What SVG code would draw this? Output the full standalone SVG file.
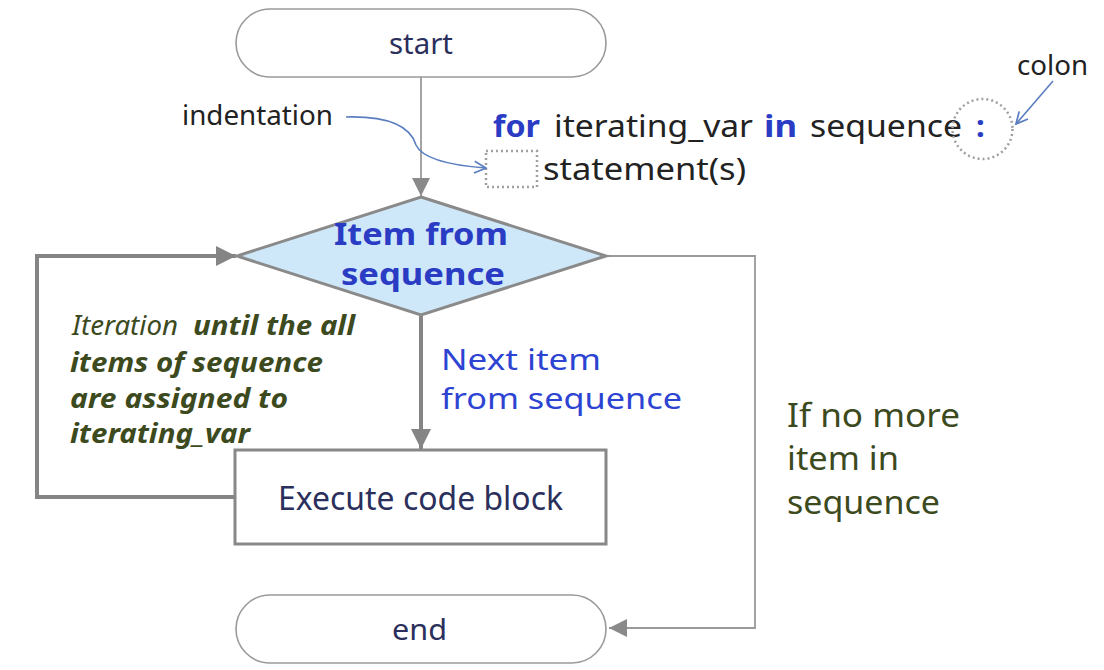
<svg xmlns="http://www.w3.org/2000/svg" width="1104" height="670" viewBox="0 0 1104 670">
<defs>
<style>
text{font-family:"Noto Sans","Open Sans","DejaVu Sans",sans-serif}
.term{fill:#fff;stroke:#9a9a9a;stroke-width:1.6}
.proc{fill:#fff;stroke:#888;stroke-width:3}
.dec{fill:#cfe8f9;stroke:#8a8a8a;stroke-width:3}
.thick{fill:none;stroke:#858585;stroke-width:4}
.thin{fill:none;stroke:#9a9a9a;stroke-width:1.8}
.note{fill:none;stroke:#5b7fc0;stroke-width:1.6}
.dot{fill:none;stroke:#a0a0a0;stroke-width:2.5;stroke-dasharray:2 3}
.navy{fill:#2b2f5c}
.blue{fill:#2a3cc4}
.lblue{fill:#2d43d2}
.green{fill:#3c4a1e}
.blk{fill:#222}
.kw{fill:#2a3cc4;font-weight:bold}
.it{font-style:italic;font-weight:bold}
</style>
<marker id="ah" viewBox="0 0 10 10" refX="10" refY="5" markerWidth="5" markerHeight="5" markerUnits="strokeWidth" orient="auto"><path d="M0,0 L10,5 L0,10 z" fill="#858585"/></marker>
<marker id="ahs" viewBox="0 0 10 10" refX="10" refY="5" markerWidth="10" markerHeight="10" markerUnits="strokeWidth" orient="auto"><path d="M0,0 L10,5 L0,10 z" fill="#8a8a8a"/></marker>
<marker id="open" viewBox="0 0 12 12" refX="11" refY="6" markerWidth="14" markerHeight="14" markerUnits="userSpaceOnUse" orient="auto"><path d="M1,1 L11,6 L1,11" fill="none" stroke="#5b7fc0" stroke-width="1.5"/></marker>
</defs>

<g id="connectors">
<line class="thin" x1="421" y1="77" x2="421" y2="196" marker-end="url(#ahs)"/>
<line class="thick" x1="421" y1="316" x2="421" y2="449" marker-end="url(#ah)"/>
<polyline class="thick" points="235,497 37,497 37,256 236,256" marker-end="url(#ah)"/>
<polyline class="thin" points="606,256 755,256 755,628 609,628" marker-end="url(#ahs)"/>
</g>

<g id="start">
<rect class="term" x="236" y="9" width="370" height="68" rx="34"/>
<text class="navy" x="421" y="54" font-size="29" text-anchor="middle" textLength="64" lengthAdjust="spacingAndGlyphs">start</text>
</g>

<g id="decision">
<polygon class="dec" points="421,197 606,256 421,315 237,256"/>
<text class="blue" x="421" y="245" font-size="31" font-weight="bold" text-anchor="middle" textLength="174" lengthAdjust="spacingAndGlyphs">Item from</text>
<text class="blue" x="423" y="285" font-size="31" font-weight="bold" text-anchor="middle" textLength="164" lengthAdjust="spacingAndGlyphs">sequence</text>
</g>

<g id="execute">
<rect class="proc" x="235" y="450" width="371" height="94"/>
<text class="navy" x="420.5" y="510" font-size="32" text-anchor="middle" textLength="285" lengthAdjust="spacingAndGlyphs">Execute code block</text>
</g>

<g id="end">
<rect class="term" x="236" y="595" width="370" height="68" rx="34"/>
<text class="navy" x="419.5" y="640" font-size="29" text-anchor="middle" textLength="55" lengthAdjust="spacingAndGlyphs">end</text>
</g>

<g id="syntax">
<text class="kw" x="493" y="137" font-size="31" textLength="47" lengthAdjust="spacingAndGlyphs">for</text>
<text class="blk" x="554" y="137" font-size="31" textLength="199" lengthAdjust="spacingAndGlyphs">iterating_var</text>
<text class="kw" x="764" y="137" font-size="31" textLength="33" lengthAdjust="spacingAndGlyphs">in</text>
<text class="blk" x="810" y="137" font-size="31" textLength="152" lengthAdjust="spacingAndGlyphs">sequence</text>
<text class="kw" x="976" y="137" font-size="31">:</text>
<rect class="dot" x="486" y="151" width="51" height="36"/>
<text class="blk" x="543" y="180" font-size="31" textLength="203" lengthAdjust="spacingAndGlyphs">statement(s)</text>
<circle class="dot" cx="982.5" cy="129" r="30"/>
</g>

<g id="annotations">
<text class="blk" x="182" y="125" font-size="27" textLength="151" lengthAdjust="spacingAndGlyphs">indentation</text>
<path class="note" d="M346,117 C385,116 410,125 416,145 C422,158 445,165 486,168" marker-end="url(#open)"/>
<text class="blk" x="1017" y="75" font-size="27" textLength="71" lengthAdjust="spacingAndGlyphs">colon</text>
<path class="note" d="M1053,81 L1016,124" marker-end="url(#open)"/>
</g>

<g id="loop-label">
<text class="green" x="72" y="335" font-size="27" font-style="italic" textLength="106" lengthAdjust="spacingAndGlyphs">Iteration</text>
<text class="green it" x="193" y="335" font-size="27" textLength="162" lengthAdjust="spacingAndGlyphs">until the all</text>
<text class="green it" x="70" y="372" font-size="27" textLength="253" lengthAdjust="spacingAndGlyphs">items of sequence</text>
<text class="green it" x="70" y="408" font-size="27" textLength="218" lengthAdjust="spacingAndGlyphs">are assigned  to</text>
<text class="green it" x="70" y="443" font-size="27" textLength="180" lengthAdjust="spacingAndGlyphs">iterating_var</text>
</g>

<g id="next-label">
<text class="lblue" x="441" y="370" font-size="29" textLength="160" lengthAdjust="spacingAndGlyphs">Next item</text>
<text class="lblue" x="441" y="409" font-size="29" textLength="241" lengthAdjust="spacingAndGlyphs">from sequence</text>
</g>

<g id="nomore-label">
<text class="green" x="787" y="427" font-size="32" textLength="173" lengthAdjust="spacingAndGlyphs">If no more</text>
<text class="green" x="787" y="470" font-size="32" textLength="112" lengthAdjust="spacingAndGlyphs">item in</text>
<text class="green" x="787" y="514" font-size="32" textLength="153" lengthAdjust="spacingAndGlyphs">sequence</text>
</g>
</svg>
